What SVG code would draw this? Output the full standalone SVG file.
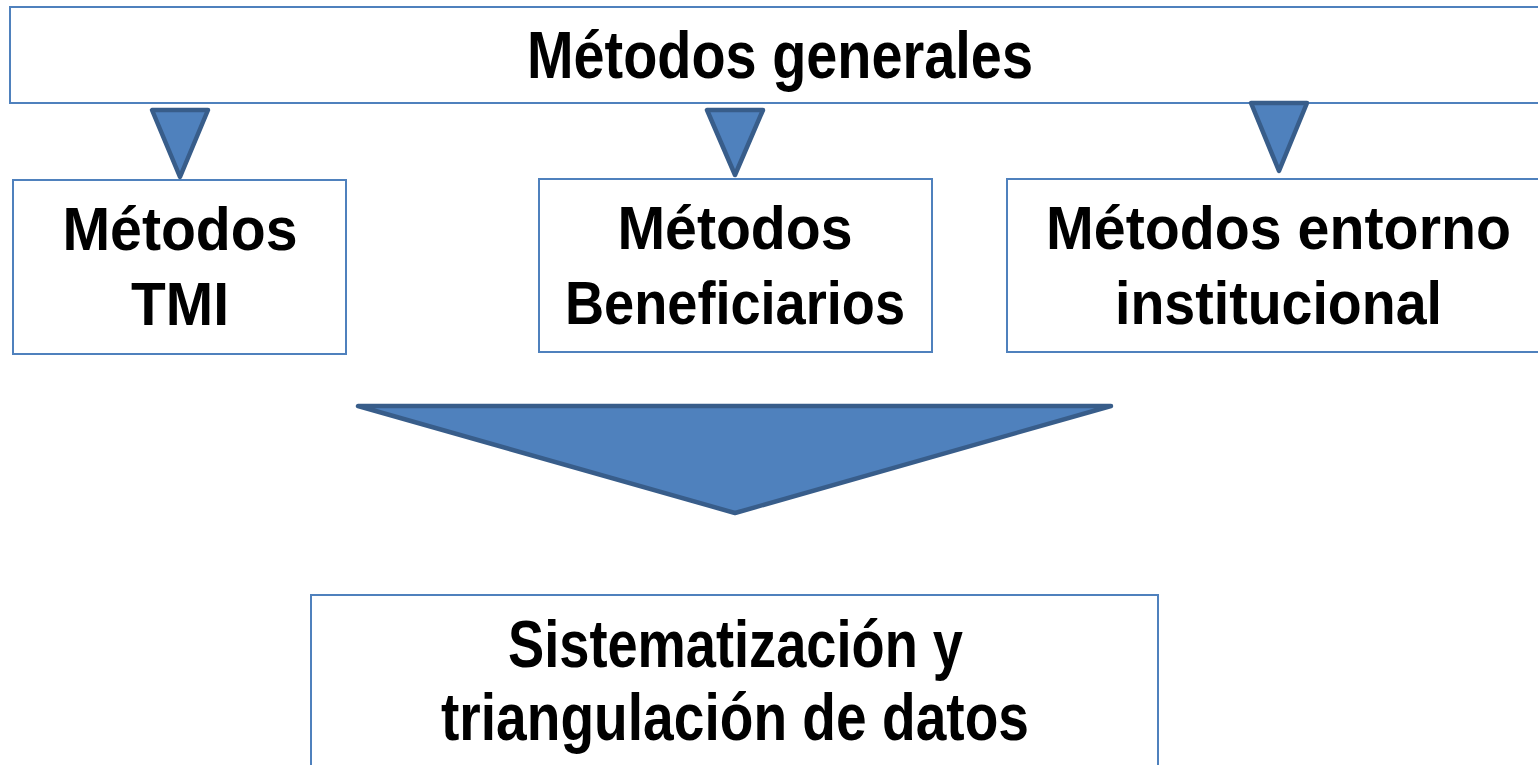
<svg xmlns="http://www.w3.org/2000/svg" width="1538" height="765" viewBox="0 0 1538 765">
<style>
.box{fill:#fff;stroke:#4F81BD;stroke-width:2}
.tri{fill:#4F81BD;stroke:#385D8A;stroke-width:4.5;stroke-linejoin:round}
.t{font-family:"Liberation Sans",Arial,sans-serif;font-weight:bold;font-size:61px;fill:#000;text-anchor:middle}
.n{font-family:"Liberation Sans Narrow","Arial Narrow","Liberation Sans",sans-serif;font-weight:bold;font-size:67px;fill:#000;text-anchor:middle}
</style>
<rect width="1538" height="765" fill="#fff"/>
<g id="top">
<rect class="box" x="10" y="7" width="1540" height="96"/>
<text class="n" x="780" y="78" textLength="506" lengthAdjust="spacingAndGlyphs">Métodos generales</text>
</g>
<g id="tmi">
<rect class="box" x="13" y="180" width="333" height="174"/>
<text class="t" x="180" y="250" textLength="235" lengthAdjust="spacingAndGlyphs">Métodos</text>
<text class="t" x="180" y="325" textLength="98" lengthAdjust="spacingAndGlyphs">TMI</text>
</g>
<g id="benef">
<rect class="box" x="539" y="179" width="393" height="173"/>
<text class="t" x="735" y="249" textLength="235" lengthAdjust="spacingAndGlyphs">Métodos</text>
<text class="t" x="735" y="324" textLength="340" lengthAdjust="spacingAndGlyphs">Beneficiarios</text>
</g>
<g id="entorno">
<rect class="box" x="1007" y="179" width="543" height="173"/>
<text class="t" x="1278.5" y="249" textLength="465" lengthAdjust="spacingAndGlyphs">Métodos entorno</text>
<text class="t" x="1278.5" y="324" textLength="327" lengthAdjust="spacingAndGlyphs">institucional</text>
</g>
<g id="sist">
<rect class="box" x="311" y="595" width="847" height="180"/>
<text class="n" x="735.5" y="667" textLength="455" lengthAdjust="spacingAndGlyphs">Sistematización y</text>
<text class="n" x="735" y="740" textLength="588" lengthAdjust="spacingAndGlyphs">triangulación de datos</text>
</g>
<g id="connectors">
<polygon class="tri" points="152,110 208,110 180,177"/>
<polygon class="tri" points="707,110 763,110 735,175"/>
<polygon class="tri" points="1251,103 1307,103 1279,171"/>
<polygon class="tri" points="358,406 1111,406 735,513"/>
</g>
</svg>
